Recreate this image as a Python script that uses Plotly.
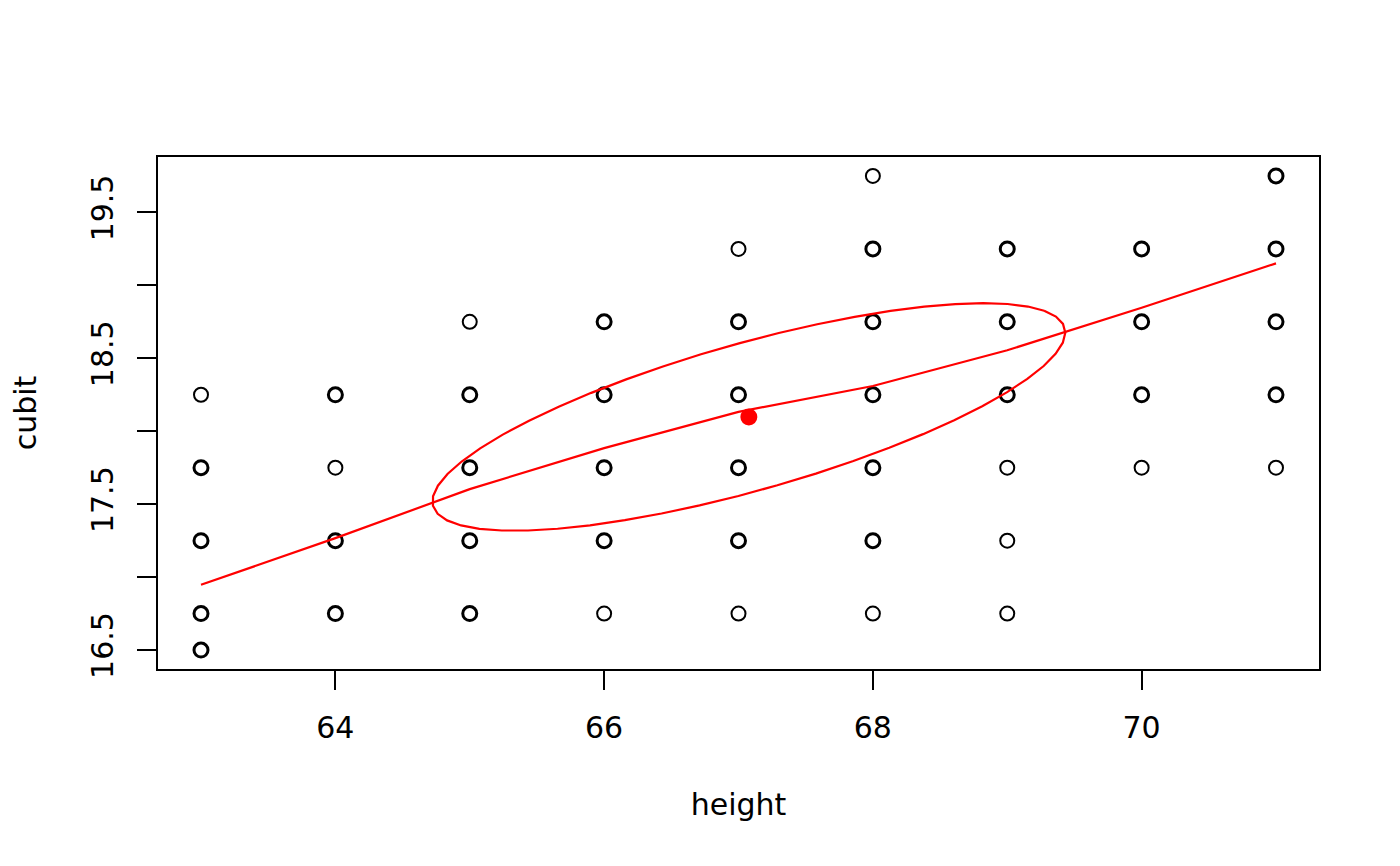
import numpy as np
import plotly.graph_objects as go

# Galton-style cubit vs height grid
height = [63, 63, 63, 63, 63,
          64, 64, 64, 64,
          65, 65, 65, 65, 65,
          66, 66, 66, 66, 66,
          67, 67, 67, 67, 67, 67,
          68, 68, 68, 68, 68, 68, 68,
          69, 69, 69, 69, 69, 69,
          70, 70, 70, 70,
          71, 71, 71, 71, 71]
cubit = [18.25, 17.75, 17.25, 16.75, 16.5,
         18.25, 17.75, 17.25, 16.75,
         18.75, 18.25, 17.75, 17.25, 16.75,
         18.75, 18.25, 17.75, 17.25, 16.75,
         19.25, 18.75, 18.25, 17.75, 17.25, 16.75,
         19.75, 19.25, 18.75, 18.25, 17.75, 17.25, 16.75,
         19.25, 18.75, 18.25, 17.75, 17.25, 16.75,
         19.25, 18.75, 18.25, 17.75,
         19.75, 19.25, 18.75, 18.25, 17.75]
# 1 = single case, 2 = several cases drawn on top of each other
overplot = [1, 2, 2, 2, 2,
            2, 1, 2, 2,
            1, 2, 2, 2, 2,
            2, 2, 2, 2, 1,
            1, 2, 2, 2, 2, 1,
            1, 2, 2, 2, 2, 2, 1,
            2, 2, 2, 1, 1, 1,
            2, 2, 2, 1,
            2, 2, 2, 2, 1]

# lowess smooth
smooth_x = [63, 64, 65, 66, 67, 68, 69, 70, 71]
smooth_y = [16.947, 17.267, 17.603, 17.884, 18.133, 18.31, 18.555, 18.847, 19.151]

# means, ellipse half-extents and correlation
mean_height = 67.077
mean_cubit = 18.098
ell_sx = 2.355
ell_sy = 0.78
r = 0.742

x_ticks = [64, 66, 68, 70]
y_ticks = [16.5, 17, 17.5, 18, 18.5, 19, 19.5]
y_ticktext = ["16.5", "", "17.5", "", "18.5", "", "19.5"]

# ellipse like psych::ellipses (51 segments)
segments = 51
ang = np.arange(segments + 1) * 2 * np.pi / segments
th = np.sign(r) / np.sqrt(2)
ex = np.cos(ang) * np.sqrt(1 + r) * th - np.sin(ang) * np.sqrt(1 - r) * th
ey = np.cos(ang) * np.sqrt(1 + r) * th + np.sin(ang) * np.sqrt(1 - r) * th
ell_x = mean_height + ell_sx * ex
ell_y = mean_cubit + ell_sy * ey

hx = np.array(height)
cy = np.array(cubit)
ov = np.array(overplot)

fig = go.Figure()

fig.add_trace(go.Scatter(
    x=hx[ov == 1], y=cy[ov == 1], mode="markers",
    marker=dict(symbol="circle-open", size=14, color="black", line=dict(width=2, color="black")),
))
fig.add_trace(go.Scatter(
    x=hx[ov > 1], y=cy[ov > 1], mode="markers",
    marker=dict(symbol="circle-open", size=14, color="black", line=dict(width=3, color="black")),
))
fig.add_trace(go.Scatter(
    x=ell_x, y=ell_y, mode="lines", line=dict(color="red", width=2.2),
))
fig.add_trace(go.Scatter(
    x=smooth_x, y=smooth_y, mode="lines", line=dict(color="red", width=2.2),
))
fig.add_trace(go.Scatter(
    x=[mean_height], y=[mean_cubit], mode="markers",
    marker=dict(symbol="circle", size=17, color="red"),
))

font = dict(family="DejaVu Sans", size=30, color="black")

# page body adds 8px, margins are set so the box lands where R put it
fig.update_layout(
    width=1400, height=866,
    paper_bgcolor="white", plot_bgcolor="white",
    showlegend=False,
    margin=dict(l=150, r=89, t=149, b=205),
    font=font,
)
fig.update_xaxes(
    range=[62.68, 71.32], tickvals=x_ticks, ticks="outside", ticklen=19, tickwidth=2,
    tickcolor="black", showline=True, linecolor="black", linewidth=2, mirror=True,
    showgrid=False, zeroline=False, ticklabelstandoff=12,
    title=dict(text="height", standoff=50, font=font),
)
fig.update_yaxes(
    range=[16.37, 19.88], tickvals=y_ticks, ticktext=y_ticktext, tickangle=-90,
    ticks="outside", ticklen=19, tickwidth=2, tickcolor="black",
    showline=True, linecolor="black", linewidth=2, mirror=True,
    showgrid=False, zeroline=False, ticklabelstandoff=12,
    title=dict(text="cubit", standoff=42, font=font),
)

fig.write_html("out.html")
